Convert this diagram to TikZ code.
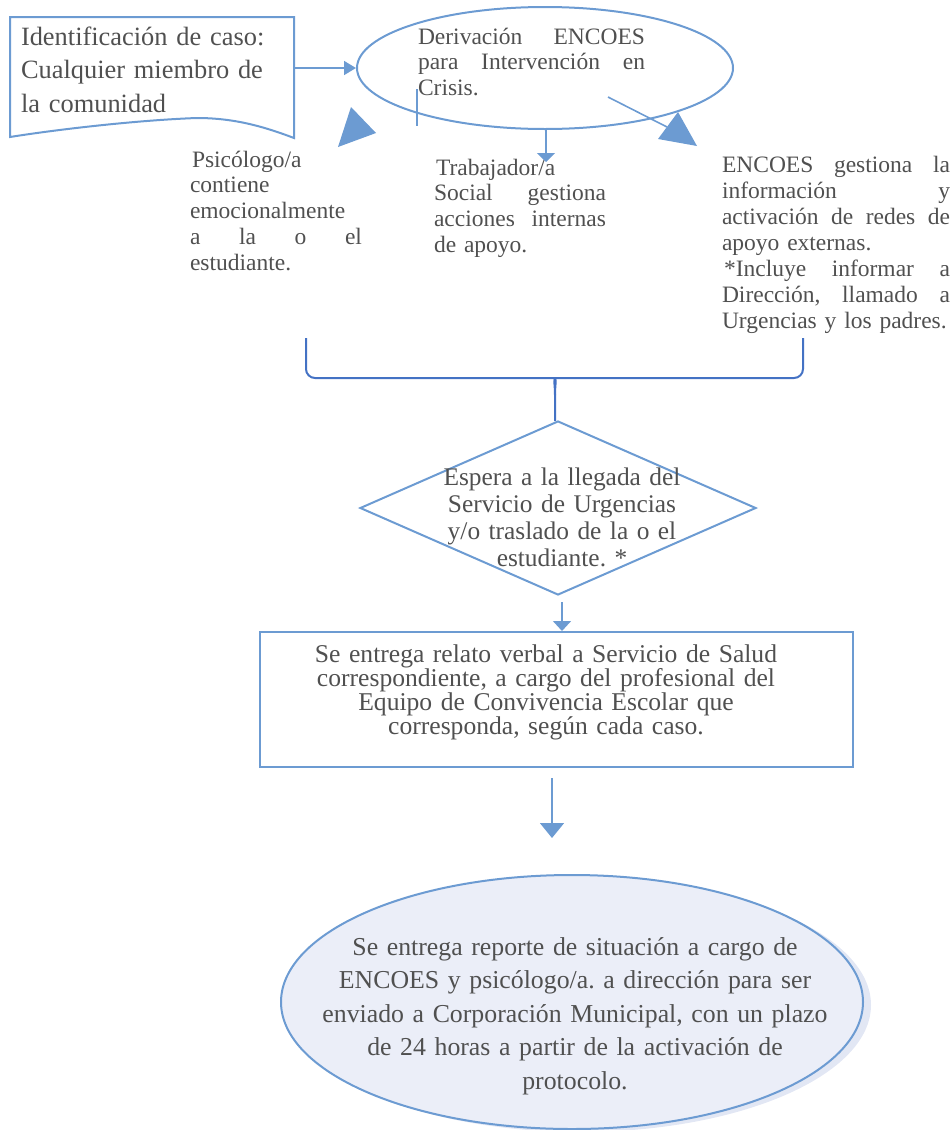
\documentclass[tikz,border=0pt]{standalone}
\usepackage{fontspec}
\setmainfont{Liberation Serif}
\usetikzlibrary{shapes.geometric,arrows.meta}
\definecolor{lb}{HTML}{6C9BD2}
\definecolor{db}{HTML}{4472C4}
\definecolor{tx}{HTML}{505050}
\definecolor{fillc}{HTML}{EBEEF8}
\definecolor{shad}{HTML}{E2E7F4}
\newcommand\jline[2]{\makebox[#1][s]{#2}}
\newcommand\myfs[2]{\fontsize{#1}{#2}\selectfont\lineskiplimit=-100pt\frenchspacing\relax}
\begin{document}
\begin{tikzpicture}[x=1pt,y=-1pt,
  shapeline/.style={draw=lb, line width=2pt},
  conn/.style={draw=lb, line width=1.6pt},
  txt/.style={text=tx, inner sep=0pt, outer sep=0pt},
  bigtri/.style={fill=lb, draw=none}]
\useasboundingbox (0,0) rectangle (952,1130);

% document shape
\coordinate (docTL) at (10,17);
\draw[shapeline, line join=miter] (docTL) -- (294,17) -- (294,138)
  .. controls (265,127) and (235,118) .. (197,118)
  .. controls (140,120) and (60,129) .. (10,137) -- cycle;
\node[txt, font=\myfs{26.4}{33.5}, text width=270pt, align=left, anchor=base west] (t0) at (21,45)
  {Identificación de caso:\\ Cualquier miembro de\\ la comunidad};
\coordinate (docR) at (294,68);

% ellipse 1
\node[ellipse, shapeline, minimum width=376pt, minimum height=122pt, inner sep=0pt] (ell1) at (545,68) {};
\node[txt, font=\myfs{23.5}{25.5}, text width=227pt, align=left, anchor=base west] (t1) at (418,44)
  {\jline{227pt}{Derivación\hfill ENCOES}\\ \jline{227pt}{para\hfill Intervención\hfill en}\\ Crisis.};
\draw[conn, -{Triangle[length=12pt,width=14pt]}] (docR) -- (ell1.west);

% stray line
\coordinate (s1) at (417,89);
\coordinate (s2) at (417,126);
\draw[conn] (s1) -- (s2);

% left big arrowhead
\fill[bigtri] (351,107) -- (376,133) -- (338,147) -- cycle;

% right connector with big arrowhead
\coordinate (rs) at (608,97);
\coordinate (re) at (667,127);
\draw[conn] (rs) -- (re);
\fill[bigtri] (678,112) -- (697,146) -- (658,139) -- cycle;

% text blocks
\node[txt, font=\myfs{23.5}{25.8}, text width=172pt, align=left, anchor=base west] (t2) at (190,167)
  {\hspace*{2pt}Psicólogo/a\\ contiene\\ emocionalmente\\ \jline{172pt}{a\hfill la\hfill o\hfill el}\\ estudiante.};
\node[txt, font=\myfs{23.5}{25.8}, text width=172pt, align=left, anchor=base west] (t3) at (434,175)
  {\hspace*{2pt}Trabajador/a\\ \jline{172pt}{Social\hfill gestiona}\\ \jline{172pt}{acciones\hfill internas}\\ de apoyo.};
\node[txt, font=\myfs{23.5}{26}, text width=228pt, align=left, anchor=base west] (t4) at (722,172)
  {\jline{228pt}{ENCOES\hfill gestiona\hfill la}\\ \jline{228pt}{información\hfill y}\\ \jline{228pt}{activación\hfill de\hfill redes\hfill de}\\ apoyo externas.\\ \hspace*{2pt}\jline{226pt}{*Incluye\hfill informar\hfill a}\\ \jline{228pt}{Dirección,\hfill llamado\hfill a}\\ Urgencias y los padres.};

\coordinate (tw) at (546,162);
\draw[conn, -{Triangle[length=9pt,width=18pt]}] (ell1.south -| tw) -- (tw);

% brace
\coordinate (bl) at (306,338);
\coordinate (br) at (803,338);
\coordinate (bm) at (555,395);
\coordinate (bt) at (555,421);
\draw[db, line width=2pt, rounded corners=9pt] (bl) -- (306,378) -- (547,378)
  [sharp corners] .. controls (553,378) and (555,384) .. (bm) -- (bt);
\draw[db, line width=2pt, rounded corners=9pt] (br) -- (803,378) -- (563,378)
  [sharp corners] .. controls (557,378) and (555,384) .. (bm);

% diamond
\node[diamond, shapeline, minimum width=396pt, minimum height=174pt, inner sep=0pt] (dia) at (558,508) {};
\node[txt, font=\myfs{25.4}{27.3}, text width=280pt, align=center, anchor=base] (t5) at (562,485)
  {Espera a la llegada del\\ Servicio de Urgencias\\ y/o traslado de la o el\\ estudiante. *};

% rectangle
\node[rectangle, shapeline, minimum width=593pt, minimum height=135pt, inner sep=0pt] (rect) at (556.5,699.5) {};
\node[txt, font=\myfs{25.6}{24}, text width=500pt, align=center, anchor=base] (t6) at (546,662)
  {Se entrega relato verbal a Servicio de Salud\\ correspondiente, a cargo del profesional del\\ Equipo de Convivencia Escolar que\\ corresponda, según cada caso.};
\coordinate (d2) at (562,602);
\draw[conn, -{Triangle[length=10pt,width=18pt]}] (d2) -- (rect.north -| d2);

% bottom ellipse
\node[ellipse, fill=shad, draw=none, minimum width=582pt, minimum height=254pt, inner sep=0pt] (ell2s) at (580,1005) {};
\node[ellipse, shapeline, fill=fillc, minimum width=582pt, minimum height=254pt, inner sep=0pt] (ell2) at (572,1002) {};
\node[txt, font=\myfs{25.8}{33.5}, text width=560pt, align=center, anchor=base] (t7) at (575,955)
  {Se entrega reporte de situación a cargo de\\ ENCOES y psicólogo/a. a dirección para ser\\ enviado a Corporación Municipal, con un plazo\\ de 24 horas a partir de la activación de\\ protocolo.};
\coordinate (r1) at (552,778);
\coordinate (r2) at (552,838);
\draw[conn, -{Triangle[length=15pt,width=24pt]}] (r1) -- (r2);
\end{tikzpicture}
\end{document}
